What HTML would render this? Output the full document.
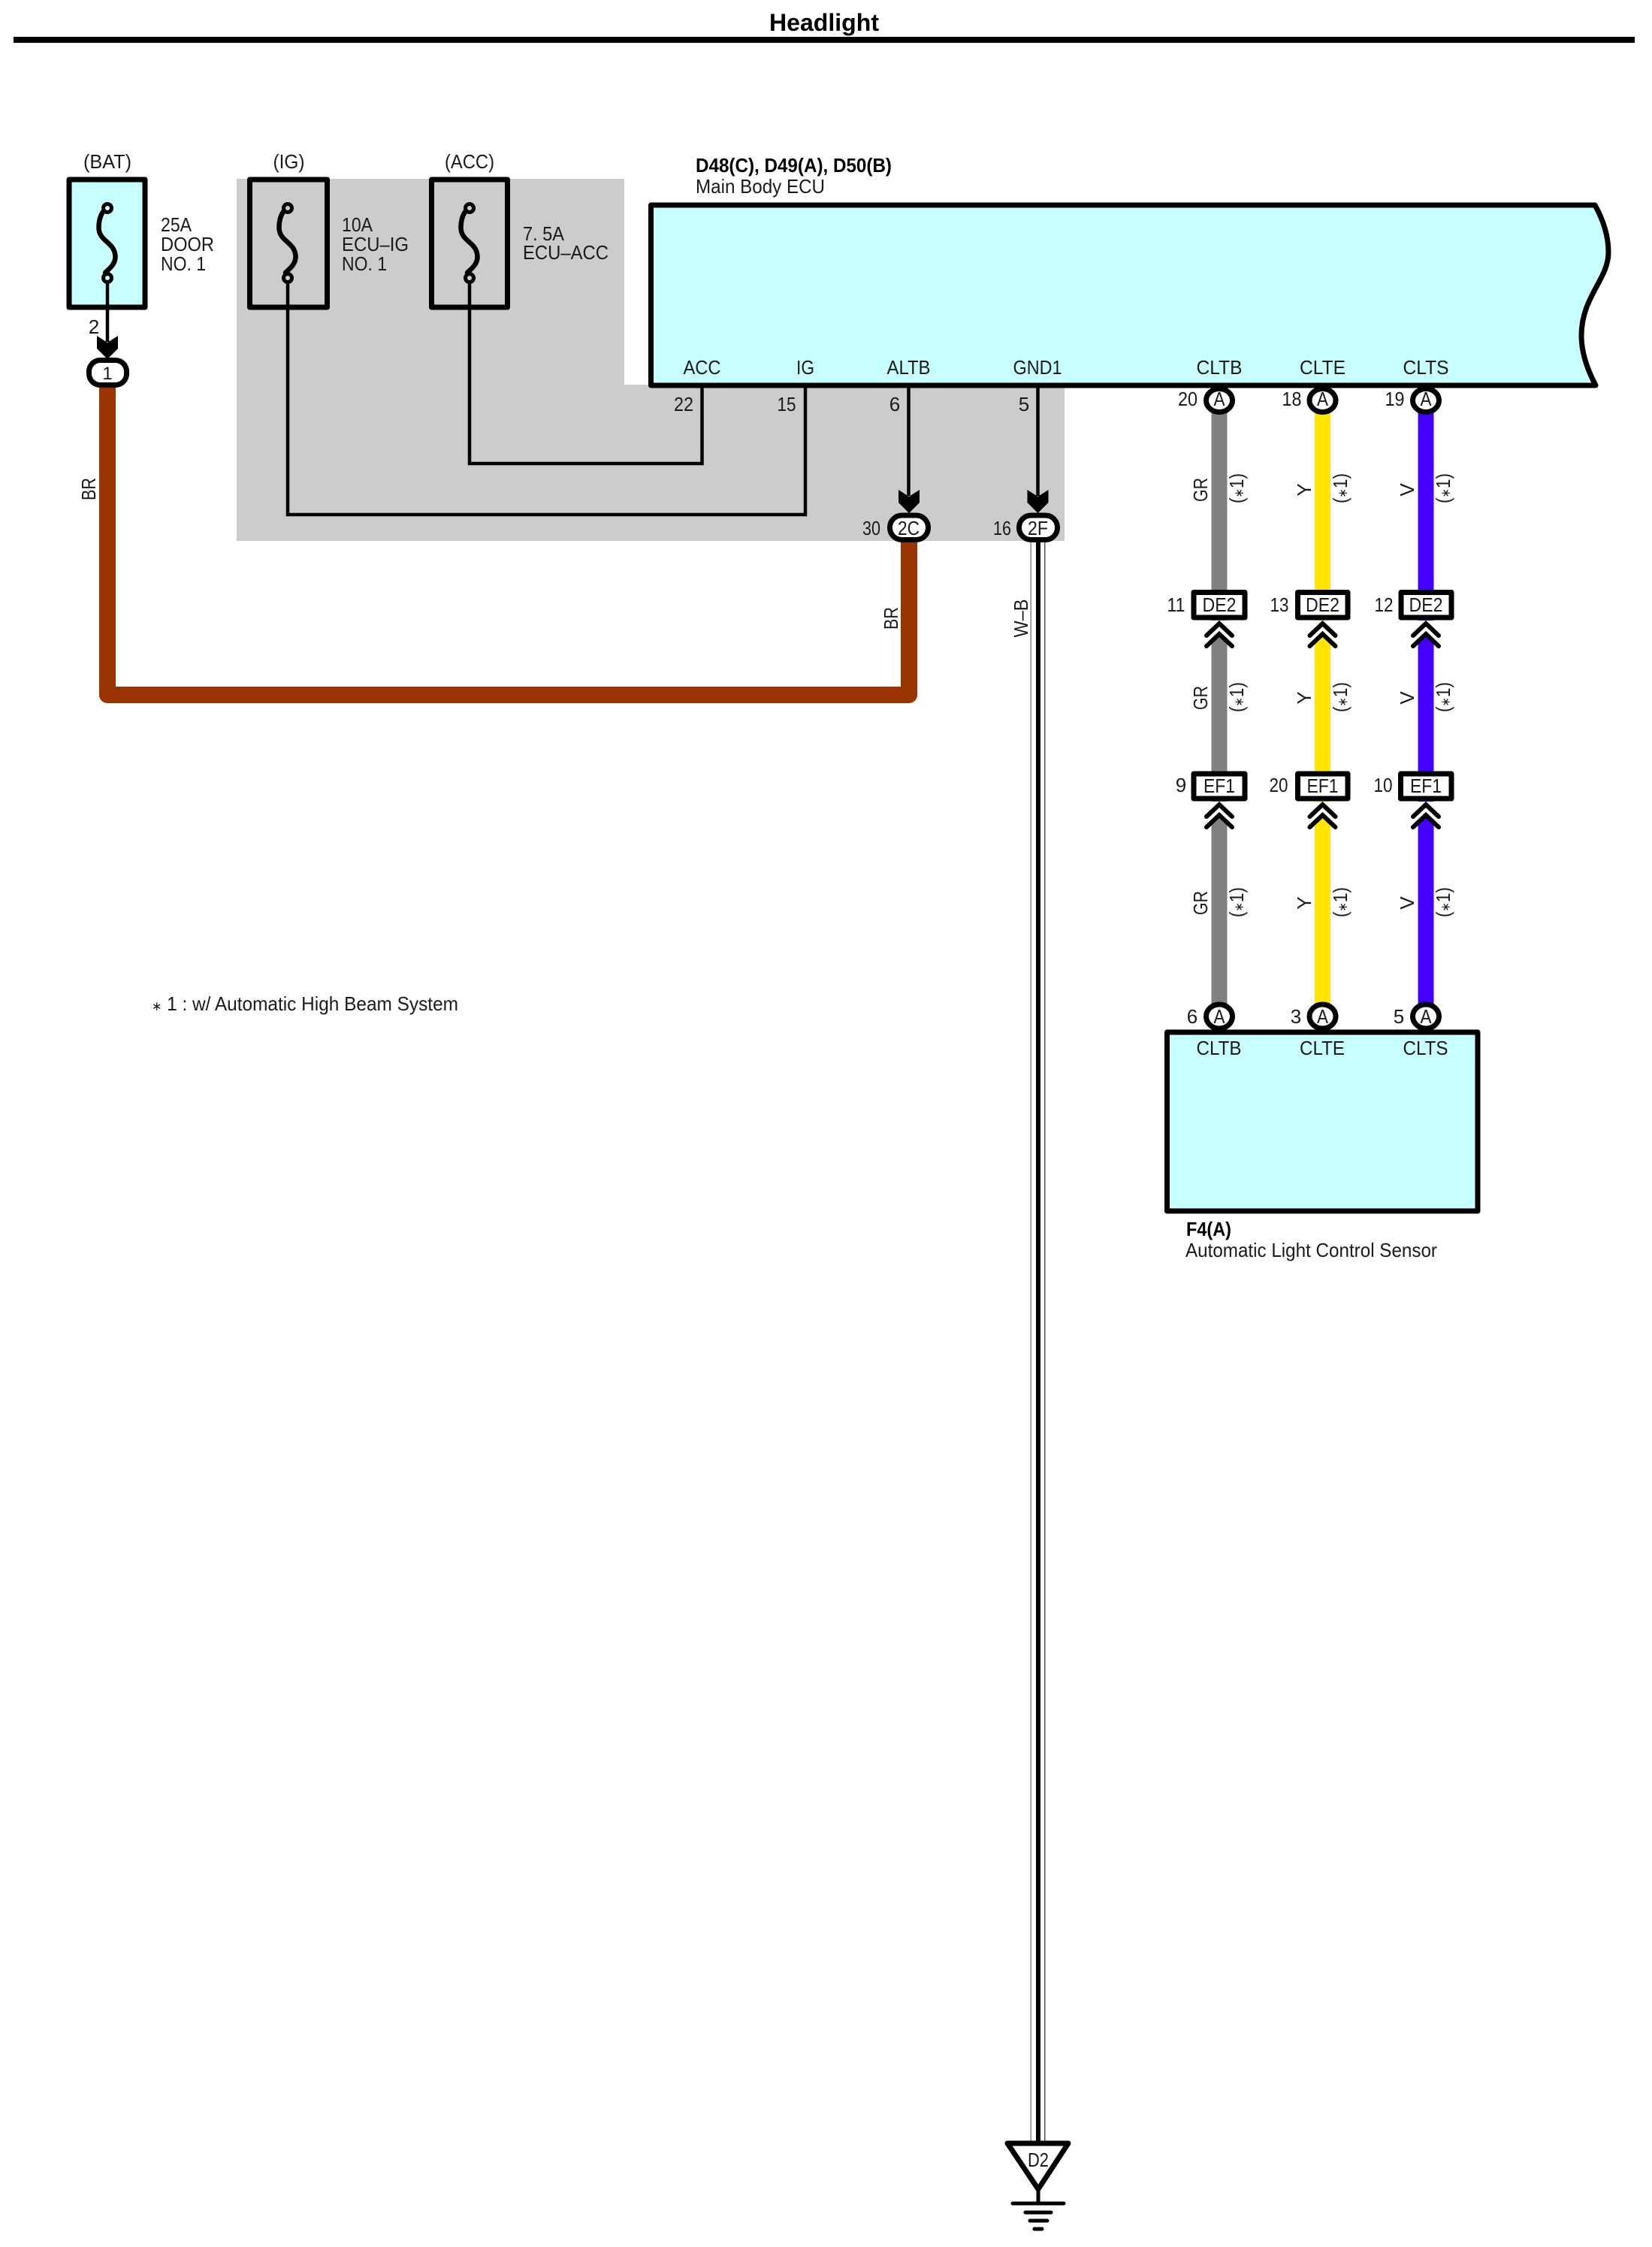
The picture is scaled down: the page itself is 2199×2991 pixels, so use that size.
<!DOCTYPE html>
<html lang="en"><head><meta charset="utf-8"><title>Headlight</title>
<style>
html,body{margin:0;padding:0;background:#fff}
svg{display:block}
text{font-family:"Liberation Sans",sans-serif;font-size:26px;fill:#1a1a1a;text-anchor:middle}
text.s{text-anchor:start}
text.b{font-weight:bold;fill:#000}
tspan.a{font-size:17px}
</style></head><body>
<svg xmlns="http://www.w3.org/2000/svg" width="2199" height="2991" viewBox="0 0 2199 2991">
<defs>
<path id="ah" d="M-14 0L-14 17L0 31L14 17L14 0L0 9Z" fill="#000"/>
<path id="fz" d="M-6 10C-10 16-11.500 23-11.500 31C-11.500 50 10.500 50 10.500 70C10.500 80 2 86-3 91" fill="none" stroke="#000" stroke-width="6.500" stroke-linecap="round"/>
<g id="cv">
<rect x="-20" y="0" width="40" height="36" fill="#fff"/>
<path d="M-10.500 37V26L0 18L10.500 26V37Z"/>
<path d="M-17 20L0 4L17 20M-17 34L0 18L17 34" fill="none" stroke="#000" stroke-width="6" stroke-linecap="round" stroke-linejoin="miter"/>
</g>
</defs>
<rect width="2199" height="2991" fill="#fff"/>

<!-- title -->
<text x="1097" y="41" class="b" style="font-size:32px" textLength="146" lengthAdjust="spacingAndGlyphs">Headlight</text>
<rect x="18" y="49" width="2158" height="8" fill="#000"/>

<!-- gray region -->
<path d="M315 238H831V512H1417V720H315Z" fill="#ccc"/>

<!-- black wires -->
<g fill="none" stroke="#000" stroke-width="4.500">
<path d="M383 370V685H1072V513"/>
<path d="M625 370V617H934.500V513"/>
<path d="M1209.500 513V660"/>
<path d="M143 370V455"/>
<path d="M1381.500 513V660"/>
</g>

<!-- W-B wire -->
<rect x="1371.500" y="722" width="1.500" height="2135" fill="#888"/>
<rect x="1390" y="722" width="1.500" height="2135" fill="#555"/>
<rect x="1379" y="722" width="6" height="2135" fill="#000"/>

<!-- BR wire -->
<path d="M143 510V925H1210V716" fill="none" stroke="#993300" stroke-width="22" stroke-linejoin="round"/>

<!-- colored wires -->
<g fill="none" stroke-width="21">
<path d="M1623 548V1340" stroke="#808080"/>
<path d="M1760.500 548V1340" stroke="#ffe600"/>
<path d="M1898 548V1340" stroke="#4400ff"/>
</g>

<!-- fuse boxes -->
<rect x="92" y="239" width="101" height="170" fill="#c8ffff" stroke="#000" stroke-width="7" stroke-linejoin="round"/>
<path d="M143 370V409" stroke="#000" stroke-width="4.500"/>
<g fill="none" stroke="#000" stroke-width="7" stroke-linejoin="round">
<rect x="332.500" y="239" width="103" height="170"/>
<rect x="574.500" y="239" width="101" height="170"/>
</g>
<use href="#fz" x="143" y="272"/><use href="#fz" x="383" y="272"/><use href="#fz" x="625" y="272"/>
<g stroke="#000" stroke-width="5">
<circle cx="143" cy="277" r="5.500" fill="#c8ffff"/><circle cx="143" cy="370" r="5.500" fill="#c8ffff"/>
<circle cx="383" cy="277" r="5.500" fill="#ccc"/><circle cx="383" cy="370" r="5.500" fill="#ccc"/>
<circle cx="625" cy="277" r="5.500" fill="#ccc"/><circle cx="625" cy="370" r="5.500" fill="#ccc"/>
</g>

<!-- pins -->
<g fill="#fff" stroke="#000" stroke-width="7">
<ellipse cx="1623" cy="533" rx="17.500" ry="15.500"/>
<ellipse cx="1760.500" cy="533" rx="17.500" ry="15.500"/>
<ellipse cx="1898" cy="533" rx="17.500" ry="15.500"/>
<ellipse cx="1623" cy="1353" rx="17.500" ry="16"/>
<ellipse cx="1760.500" cy="1353" rx="17.500" ry="16"/>
<ellipse cx="1898" cy="1353" rx="17.500" ry="16"/>
</g>

<!-- ECU -->
<path d="M866.500 273H2123C2137 298 2141 318 2141 336C2141 372 2105 395 2105 447C2105 470 2113 492 2124 513H866.500Z" fill="#c8ffff" stroke="#000" stroke-width="7" stroke-linejoin="round"/>
<!-- sensor -->
<rect x="1553.500" y="1374" width="413.500" height="238" fill="#c8ffff" stroke="#000" stroke-width="7" stroke-linejoin="round"/>

<!-- pills -->
<g fill="#fff" stroke="#000" stroke-width="7">
<rect x="118.500" y="479.500" width="50" height="33" rx="15"/>
<rect x="1184.500" y="686" width="51" height="32.500" rx="16"/>
<rect x="1356.500" y="686" width="51" height="32.500" rx="16"/>
</g>
<use href="#ah" x="143" y="447"/><use href="#ah" x="1210" y="652"/><use href="#ah" x="1381.500" y="652"/>

<!-- DE2 / EF1 boxes and double chevrons -->
<use href="#cv" x="1623" y="826" fill="#808080"/><use href="#cv" x="1760.500" y="826" fill="#ffe600"/><use href="#cv" x="1898" y="826" fill="#4400ff"/>
<use href="#cv" x="1623" y="1067" fill="#808080"/><use href="#cv" x="1760.500" y="1067" fill="#ffe600"/><use href="#cv" x="1898" y="1067" fill="#4400ff"/>
<g fill="#fff" stroke="#000" stroke-width="7" stroke-linejoin="round">
<rect x="1589" y="788.500" width="68" height="33.500"/><rect x="1727.500" y="788.500" width="66.500" height="33.500"/><rect x="1865" y="788.500" width="67" height="33.500"/>
<rect x="1589" y="1030" width="68" height="33"/><rect x="1727.500" y="1030" width="66.500" height="33"/><rect x="1864.500" y="1030" width="67.500" height="33"/>
</g>

<!-- ground -->
<path d="M1341 2853H1422L1382 2914Z" fill="#fff" stroke="#000" stroke-width="7" stroke-linejoin="round"/>
<path d="M1382 2914V2933" stroke="#000" stroke-width="5"/>
<g stroke="#000" stroke-linecap="round" stroke-width="5">
<path d="M1348 2933H1416"/><path d="M1365 2945H1399"/><path d="M1371 2956H1394"/><path d="M1377 2967H1387"/>
</g>
<text x="1382" y="2884" textLength="28" lengthAdjust="spacingAndGlyphs">D2</text>

<!-- supply labels -->
<text x="143" y="224" textLength="64" lengthAdjust="spacingAndGlyphs">(BAT)</text>
<text x="384.500" y="224" textLength="42" lengthAdjust="spacingAndGlyphs">(IG)</text>
<text x="625" y="224" textLength="66" lengthAdjust="spacingAndGlyphs">(ACC)</text>
<text class="s" x="214" y="308" textLength="41" lengthAdjust="spacingAndGlyphs">25A</text>
<text class="s" x="214" y="334" textLength="71" lengthAdjust="spacingAndGlyphs">DOOR</text>
<text class="s" x="214" y="360" textLength="60" lengthAdjust="spacingAndGlyphs">NO. 1</text>
<text class="s" x="455" y="308" textLength="41" lengthAdjust="spacingAndGlyphs">10A</text>
<text class="s" x="455" y="334" textLength="89" lengthAdjust="spacingAndGlyphs">ECU–IG</text>
<text class="s" x="455" y="360" textLength="60" lengthAdjust="spacingAndGlyphs">NO. 1</text>
<text class="s" x="696" y="320" textLength="55" lengthAdjust="spacingAndGlyphs">7. 5A</text>
<text class="s" x="696" y="345" textLength="114" lengthAdjust="spacingAndGlyphs">ECU–ACC</text>
<text x="125" y="444">2</text>
<text x="143" y="505" style="font-size:24px">1</text>

<!-- ECU labels -->
<text class="s b" x="926" y="229" textLength="261" lengthAdjust="spacingAndGlyphs">D48(C), D49(A), D50(B)</text>
<text class="s" x="926" y="257" textLength="172" lengthAdjust="spacingAndGlyphs">Main Body ECU</text>
<text x="934.500" y="498" textLength="50" lengthAdjust="spacingAndGlyphs">ACC</text>
<text x="1072" y="498" textLength="24" lengthAdjust="spacingAndGlyphs">IG</text>
<text x="1209.500" y="498" textLength="58" lengthAdjust="spacingAndGlyphs">ALTB</text>
<text x="1381" y="498" textLength="65" lengthAdjust="spacingAndGlyphs">GND1</text>
<text x="1623" y="498" textLength="61" lengthAdjust="spacingAndGlyphs">CLTB</text>
<text x="1760.500" y="498" textLength="61" lengthAdjust="spacingAndGlyphs">CLTE</text>
<text x="1898" y="498" textLength="61" lengthAdjust="spacingAndGlyphs">CLTS</text>
<text x="910" y="547" textLength="26" lengthAdjust="spacingAndGlyphs">22</text>
<text x="1047" y="547" textLength="25" lengthAdjust="spacingAndGlyphs">15</text>
<text x="1191" y="547">6</text>
<text x="1363" y="547">5</text>
<text x="1160" y="712" textLength="24" lengthAdjust="spacingAndGlyphs">30</text>
<text x="1334" y="712" textLength="24" lengthAdjust="spacingAndGlyphs">16</text>
<text x="1209.500" y="712" textLength="29" lengthAdjust="spacingAndGlyphs">2C</text>
<text x="1381.500" y="712" textLength="27" lengthAdjust="spacingAndGlyphs">2F</text>

<text x="1581" y="540" textLength="26" lengthAdjust="spacingAndGlyphs">20</text>
<text x="1719.500" y="540" textLength="26" lengthAdjust="spacingAndGlyphs">18</text>
<text x="1856.500" y="540" textLength="26" lengthAdjust="spacingAndGlyphs">19</text>
<text x="1623" y="540" textLength="15" lengthAdjust="spacingAndGlyphs">A</text><text x="1760.500" y="540" textLength="15" lengthAdjust="spacingAndGlyphs">A</text><text x="1898" y="540" textLength="15" lengthAdjust="spacingAndGlyphs">A</text>

<text x="1623" y="814" textLength="45" lengthAdjust="spacingAndGlyphs">DE2</text>
<text x="1760.500" y="814" textLength="45" lengthAdjust="spacingAndGlyphs">DE2</text>
<text x="1898" y="814" textLength="45" lengthAdjust="spacingAndGlyphs">DE2</text>
<text x="1565.500" y="814" textLength="24" lengthAdjust="spacingAndGlyphs">11</text>
<text x="1703" y="814" textLength="25" lengthAdjust="spacingAndGlyphs">13</text>
<text x="1842" y="814" textLength="25" lengthAdjust="spacingAndGlyphs">12</text>

<text x="1623" y="1055" textLength="42" lengthAdjust="spacingAndGlyphs">EF1</text>
<text x="1760.500" y="1055" textLength="42" lengthAdjust="spacingAndGlyphs">EF1</text>
<text x="1898" y="1055" textLength="42" lengthAdjust="spacingAndGlyphs">EF1</text>
<text x="1572" y="1054">9</text>
<text x="1702" y="1054" textLength="25" lengthAdjust="spacingAndGlyphs">20</text>
<text x="1841" y="1054" textLength="25" lengthAdjust="spacingAndGlyphs">10</text>

<text x="1587" y="1362">6</text><text x="1725" y="1362">3</text><text x="1862" y="1362">5</text>
<text x="1623" y="1362" textLength="15" lengthAdjust="spacingAndGlyphs">A</text><text x="1760.500" y="1362" textLength="15" lengthAdjust="spacingAndGlyphs">A</text><text x="1898" y="1362" textLength="15" lengthAdjust="spacingAndGlyphs">A</text>
<text x="1622.500" y="1404" textLength="60" lengthAdjust="spacingAndGlyphs">CLTB</text>
<text x="1760" y="1404" textLength="60" lengthAdjust="spacingAndGlyphs">CLTE</text>
<text x="1897.500" y="1404" textLength="60" lengthAdjust="spacingAndGlyphs">CLTS</text>
<text class="s b" x="1579" y="1645" textLength="60" lengthAdjust="spacingAndGlyphs">F4(A)</text>
<text class="s" x="1578" y="1673" textLength="335" lengthAdjust="spacingAndGlyphs">Automatic Light Control Sensor</text>

<text class="s" x="202" y="1345" textLength="408" lengthAdjust="spacingAndGlyphs"><tspan class="a">∗</tspan> 1 : w/ Automatic High Beam System</text>

<!-- rotated wire labels -->
<text transform="translate(118,651) rotate(-90)" y="9" textLength="30" lengthAdjust="spacingAndGlyphs">BR</text>
<text transform="translate(1186,823) rotate(-90)" y="9" textLength="30" lengthAdjust="spacingAndGlyphs">BR</text>
<text transform="translate(1359,823) rotate(-90)" y="9" textLength="51" lengthAdjust="spacingAndGlyphs">W–B</text>

<text transform="translate(1598,652) rotate(-90)" y="9" textLength="32" lengthAdjust="spacingAndGlyphs">GR</text>
<text transform="translate(1598,929) rotate(-90)" y="9" textLength="32" lengthAdjust="spacingAndGlyphs">GR</text>
<text transform="translate(1598,1202) rotate(-90)" y="9" textLength="32" lengthAdjust="spacingAndGlyphs">GR</text>
<text transform="translate(1736,652) rotate(-90)" y="9">Y</text>
<text transform="translate(1736,929) rotate(-90)" y="9">Y</text>
<text transform="translate(1736,1202) rotate(-90)" y="9">Y</text>
<text transform="translate(1873,652) rotate(-90)" y="9">V</text>
<text transform="translate(1873,929) rotate(-90)" y="9">V</text>
<text transform="translate(1873,1202) rotate(-90)" y="9">V</text>

<text transform="translate(1646,650) rotate(-90)" y="9" textLength="40" lengthAdjust="spacingAndGlyphs">(<tspan class="a">∗</tspan>1)</text>
<text transform="translate(1784,650) rotate(-90)" y="9" textLength="40" lengthAdjust="spacingAndGlyphs">(<tspan class="a">∗</tspan>1)</text>
<text transform="translate(1921,650) rotate(-90)" y="9" textLength="40" lengthAdjust="spacingAndGlyphs">(<tspan class="a">∗</tspan>1)</text>
<text transform="translate(1646,928) rotate(-90)" y="9" textLength="40" lengthAdjust="spacingAndGlyphs">(<tspan class="a">∗</tspan>1)</text>
<text transform="translate(1784,928) rotate(-90)" y="9" textLength="40" lengthAdjust="spacingAndGlyphs">(<tspan class="a">∗</tspan>1)</text>
<text transform="translate(1921,928) rotate(-90)" y="9" textLength="40" lengthAdjust="spacingAndGlyphs">(<tspan class="a">∗</tspan>1)</text>
<text transform="translate(1646,1201) rotate(-90)" y="9" textLength="40" lengthAdjust="spacingAndGlyphs">(<tspan class="a">∗</tspan>1)</text>
<text transform="translate(1784,1201) rotate(-90)" y="9" textLength="40" lengthAdjust="spacingAndGlyphs">(<tspan class="a">∗</tspan>1)</text>
<text transform="translate(1921,1201) rotate(-90)" y="9" textLength="40" lengthAdjust="spacingAndGlyphs">(<tspan class="a">∗</tspan>1)</text>
</svg>
</body></html>
